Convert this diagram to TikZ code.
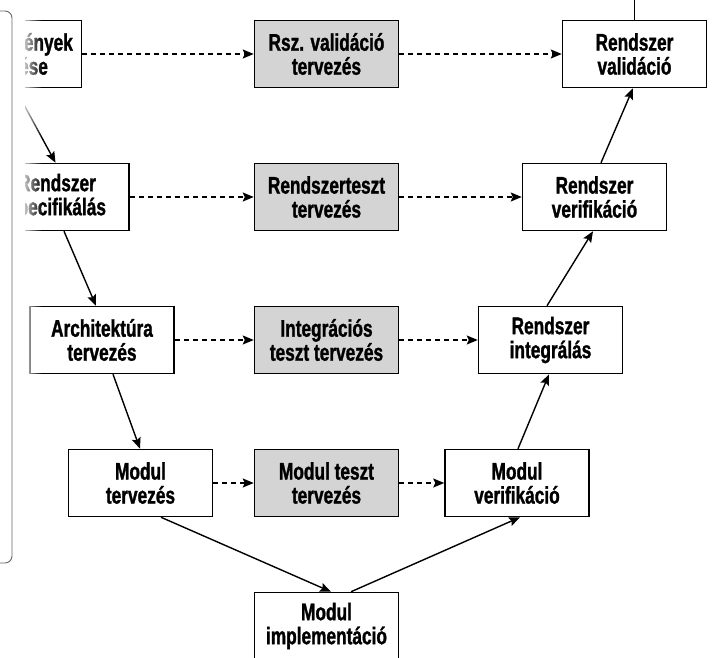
\documentclass[tikz,border=0pt]{standalone}
\usepackage{fontspec}
\newfontfamily\bxf{Liberation Sans}[FakeStretch=0.72, BoldFeatures={FakeBold=1.2}]
\usetikzlibrary{arrows.meta,fadings}
\tikzfading[name=leftfade, left color=transparent!25, right color=transparent!100]
\begin{document}
\begin{tikzpicture}[x=1pt,y=-1pt,
  box/.style={draw, line width=1.5pt, minimum width=144pt, minimum height=67pt,
    inner sep=0pt, align=center, fill=white,
    font=\bxf\bfseries\fontsize{24}{24}\selectfont},
  gbox/.style={box, fill=black!17},
  flow/.style={line width=1.4pt, -{Stealth[length=11pt,width=9pt,inset=2pt]}},
  dflow/.style={flow, dash pattern=on 5pt off 4pt},
  frame/.style={draw=black!60, line width=0.9pt, rounded corners=7pt}]
\useasboundingbox (0,0) rectangle (712,658);
\clip (0,0) rectangle (712,658);
\draw[frame] (-20,11) -- (12,11) -- (12,563) -- (-20,563);
\begin{scope}
\clip (25,0) rectangle (712,658);
% left column
\node[box] (l1) at (9.5,54) {Követelmények\\elemzése};
\node[box] (l2) at (57,197) {Rendszer\\specifikálás};
\node[box] (l3) at (102,340) {Architektúra\\tervezés};
\node[box] (l4) at (140.5,483) {Modul\\tervezés};
% middle column
\node[gbox] (m1) at (326.5,54) {Rsz. validáció\\tervezés};
\node[gbox] (m2) at (326.5,197) {Rendszerteszt\\tervezés};
\node[gbox] (m3) at (326.5,340) {Integrációs\\teszt tervezés};
\node[gbox] (m4) at (326.5,483) {Modul teszt\\tervezés};
% right column
\node[box] (r1) at (634.5,54) {Rendszer\\validáció};
\node[box] (r2) at (594.5,197) {Rendszer\\verifikáció};
\node[box] (r3) at (550.5,340) {Rendszer\\integrálás};
\node[box] (r4) at (517,483) {Modul\\verifikáció};
% bottom
\node[box] (b) at (326.5,626) {Modul\\implementáció};
\coordinate (top) at (634.5,-5);
% dashed flows
\draw[dflow] (l1) -- (m1);
\draw[dflow] (m1) -- (r1);
\draw[dflow] (l2) -- (m2);
\draw[dflow] (m2) -- (r2);
\draw[dflow] (l3) -- (m3);
\draw[dflow] (m3) -- (r3);
\draw[dflow] (l4) -- (m4);
\draw[dflow] (m4) -- (r4);
% solid flows
\draw[flow] ([xshift=5.5pt]l1.south) -- ([xshift=-1.5pt]l2.north);
\draw[flow] ([xshift=7pt]l2.south) -- ([xshift=-6pt]l3.north);
\draw[flow] ([xshift=11pt]l3.south) -- ([xshift=-0.5pt]l4.north);
\draw[flow] ([xshift=20.5pt]l4.south) -- ([xshift=4.5pt]b.north);
\draw[flow] ([xshift=24.5pt]b.north) -- ([xshift=3pt]r4.south);
\draw[flow] ([xshift=1pt]r4.north) -- ([xshift=-1.5pt]r3.south);
\draw[flow] ([xshift=-3.5pt]r3.north) -- ([xshift=-1.5pt]r2.south);
\draw[flow] ([xshift=6.5pt]r2.north) -- ([xshift=-1.5pt]r1.south);
\draw[line width=1.4pt] (r1.north) -- (top);
\fill[white, path fading=leftfade] (25,0) rectangle (42,658);
\end{scope}
\end{tikzpicture}
\end{document}
